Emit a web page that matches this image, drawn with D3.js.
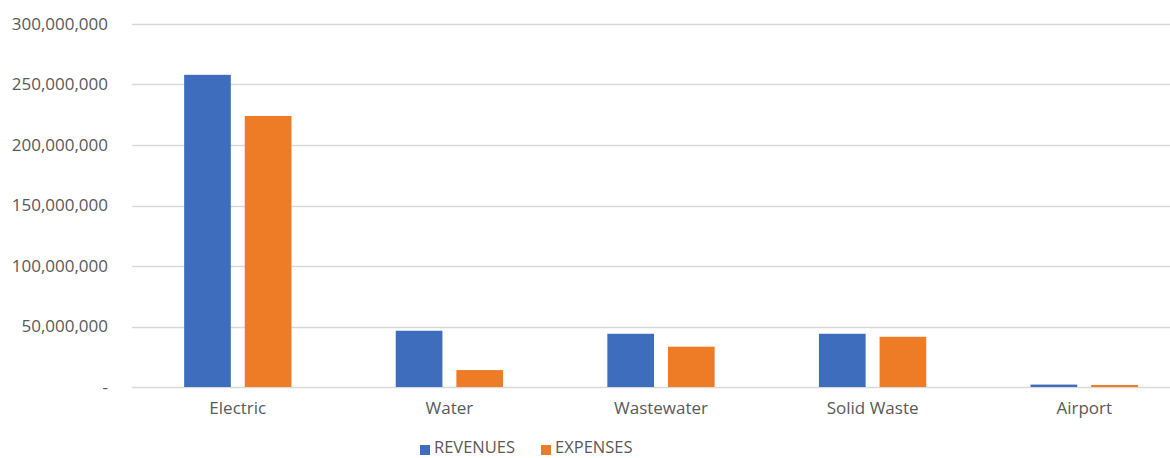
<!DOCTYPE html>
<html lang="en">
<head>
<meta charset="UTF-8">
<title>Revenues and Expenses</title>
<style>
  html, body { margin: 0; padding: 0; background: #fff; overflow: hidden; }
  svg { display: block; font-family: 'Open Sans', sans-serif; }
  .tick text { fill: #595959; }
</style>
</head>
<body>
<div id="chart"></div>
<script src="https://d3js.org/d3.v7.min.js"></script>
<script>
// data
const categories = ["Electric", "Water", "Wastewater", "Solid Waste", "Airport"];
const seriesNames = ["REVENUES", "EXPENSES"];
const revenues = [258000000, 46500000, 44000000, 44000000, 2000000];
const expenses = [224000000, 14000000, 33300000, 41500000, 1700000];
const yTicks = [0, 50000000, 100000000, 150000000, 200000000, 250000000, 300000000];

const colors = { REVENUES: "#3E6DBE", EXPENSES: "#EE7B25" };
const width = 1170, height = 458;

const svg = d3.select("#chart").append("svg")
  .attr("width", width).attr("height", height);

const x0 = d3.scaleBand().domain(categories).range([132, 1190]);
const x1 = d3.scaleBand().domain(seriesNames).range([0, x0.bandwidth()])
  .paddingInner(0.23).paddingOuter(0.86);
const y = d3.scaleLinear().domain([0, 300000000]).range([387, 24]);

// gridlines
svg.append("g")
  .selectAll("line")
  .data(yTicks)
  .join("line")
  .attr("x1", 132).attr("x2", 1170)
  .attr("y1", d => Math.round(y(d)) + 0.5).attr("y2", d => Math.round(y(d)) + 0.5)
  .attr("stroke", "#d9d9d9").attr("stroke-width", 1.3);

// y axis
const fmt = d3.format(",");
const yAxis = d3.axisLeft(y).tickValues(yTicks).tickSize(0).tickPadding(0)
  .tickFormat(d => d === 0 ? "-" : fmt(d));
svg.append("g")
  .attr("transform", "translate(108,0)")
  .call(yAxis)
  .call(g => g.select(".domain").remove())
  .selectAll("text")
  .attr("font-size", 17)
  .attr("font-family", "'Open Sans', sans-serif");

// x axis
const xAxis = d3.axisBottom(x0).tickSize(0).tickPadding(0);
svg.append("g")
  .attr("transform", "translate(0,399)")
  .call(xAxis)
  .call(g => g.select(".domain").remove())
  .selectAll("text")
  .attr("font-size", 17)
  .attr("font-family", "'Open Sans', sans-serif")
  .attr("dy", "0.9em");

// bars
const rows = categories.map((c, i) => ({ cat: c, REVENUES: revenues[i], EXPENSES: expenses[i] }));
svg.append("g")
  .selectAll("g")
  .data(rows)
  .join("g")
  .attr("transform", d => `translate(${x0(d.cat)},0)`)
  .selectAll("rect")
  .data(d => seriesNames.map(s => ({ key: s, value: d[s] })))
  .join("rect")
  .attr("x", d => x1(d.key))
  .attr("y", d => y(d.value))
  .attr("width", x1.bandwidth())
  .attr("height", d => y(0) - y(d.value))
  .attr("fill", d => colors[d.key]);

// legend
const legend = svg.append("g").attr("font-size", 16.5).attr("fill", "#595959");
const legendX = [420, 541];
seriesNames.forEach((s, i) => {
  legend.append("rect")
    .attr("x", legendX[i]).attr("y", 445)
    .attr("width", 10).attr("height", 10)
    .attr("fill", colors[s]);
  legend.append("text")
    .attr("x", legendX[i] + 14).attr("y", 452.5)
    .text(s);
});
</script>
</body>
</html>
